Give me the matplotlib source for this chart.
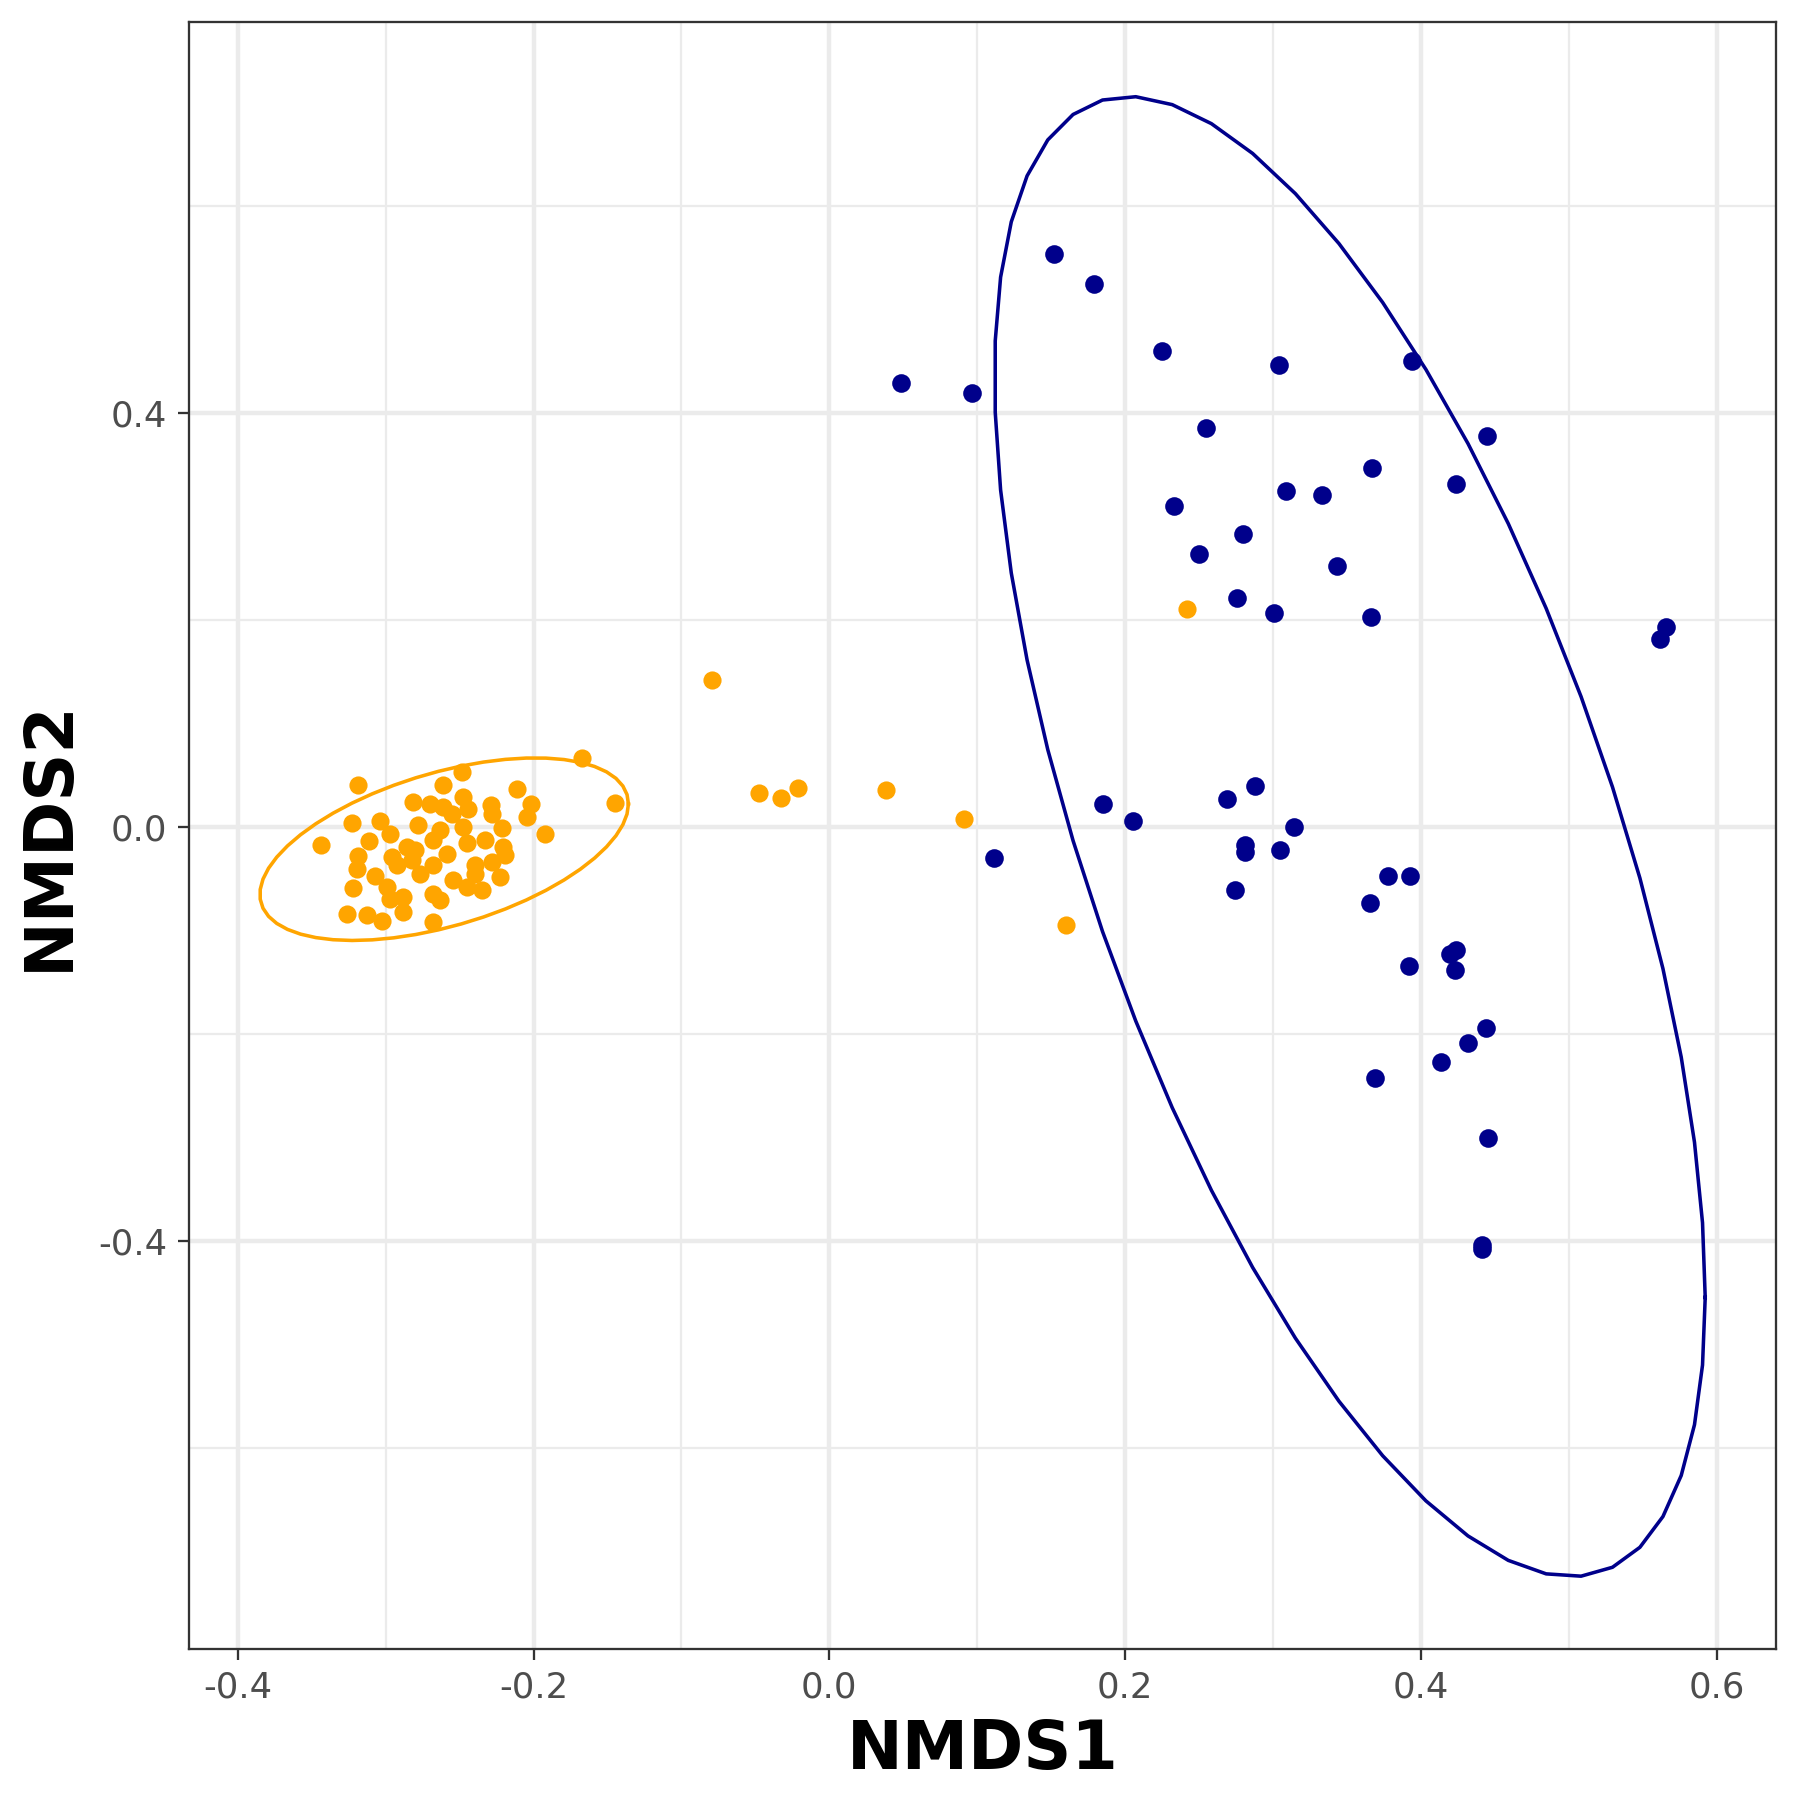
import numpy as np
import matplotlib

matplotlib.use("Agg")
import matplotlib.pyplot as plt
from matplotlib.ticker import MultipleLocator

# group A (orange) site scores
orange_x = [
    -0.3186, -0.3440, -0.3230, -0.3040, -0.2972, -0.3112, -0.3186, -0.3197, -0.3073, -0.3224,
    -0.3265, -0.3129, -0.3028, -0.2994, -0.2972, -0.2882, -0.2882, -0.2960, -0.2926, -0.2859,
    -0.2803, -0.2814, -0.2780, -0.2701, -0.2611, -0.2487, -0.2611, -0.2554, -0.2476, -0.2634,
    -0.2679, -0.2825, -0.2769, -0.2679, -0.2588, -0.2544, -0.2679, -0.2634, -0.2679, -0.2453,
    -0.2476, -0.2453, -0.1675, -0.1450, -0.1923, -0.2111, -0.2020, -0.2047, -0.2442, -0.2291,
    -0.2284, -0.2216, -0.2329, -0.2205, -0.2194, -0.2284, -0.2397, -0.2397, -0.2228, -0.2352,
    0.2420, -0.0796, -0.0477, -0.0330, -0.0210, 0.0384, 0.0910, 0.1600,
]
orange_y = [
    0.0401, -0.0172, 0.0037, 0.0056, -0.0066, -0.0137, -0.0285, -0.0404, -0.0478, -0.0588,
    -0.0839, -0.0849, -0.0913, -0.0582, -0.0694, -0.0678, -0.0823, -0.0292, -0.0372, -0.0195,
    -0.0227, 0.0240, 0.0015, 0.0224, 0.0401, 0.0530, 0.0191, 0.0127, 0.0288, -0.0034,
    -0.0130, -0.0324, -0.0452, -0.0372, -0.0259, -0.0517, -0.0646, -0.0710, -0.0920, -0.0582,
    0.0000, -0.0161, 0.0669, 0.0230, -0.0072, 0.0360, 0.0217, 0.0095, 0.0176, 0.0208,
    0.0121, -0.0017, -0.0130, -0.0195, -0.0275, -0.0340, -0.0372, -0.0452, -0.0485, -0.0614,
    0.2100, 0.1420, 0.0330, 0.0280, 0.0370, 0.0355, 0.0078, -0.0954,
]

# group B (dark blue) site scores
blue_x = [
    0.0485, 0.0966, 0.1520, 0.1790, 0.2250, 0.3040, 0.3940, 0.2550, 0.4450, 0.3670,
    0.4240, 0.2330, 0.3090, 0.3330, 0.2800, 0.2500, 0.3430, 0.2760, 0.3010, 0.3660,
    0.5660, 0.5620, 0.1850, 0.2050, 0.2690, 0.2880, 0.3140, 0.2810, 0.2810, 0.3050,
    0.1110, 0.2740, 0.3776, 0.3929, 0.3658, 0.4197, 0.4238, 0.4229, 0.3918, 0.4441,
    0.4317, 0.4136, 0.3690, 0.4452, 0.4414, 0.4414,
]
blue_y = [
    0.4290, 0.4190, 0.5530, 0.5240, 0.4600, 0.4460, 0.4500, 0.3850, 0.3780, 0.3470,
    0.3310, 0.3100, 0.3240, 0.3210, 0.2830, 0.2640, 0.2520, 0.2210, 0.2070, 0.2030,
    0.1930, 0.1810, 0.0220, 0.0060, 0.0270, 0.0390, 0.0000, -0.0180, -0.0240, -0.0220,
    -0.0300, -0.0610, -0.0475, -0.0475, -0.0739, -0.1226, -0.1194, -0.1384, -0.1345, -0.1948,
    -0.2090, -0.2270, -0.2424, -0.3011, -0.4045, -0.4077,
]

# ellipse centres and covariance (sxx, sxy, syy)
orange_centre = [-0.2605, -0.0217]
orange_cov = [0.01553, 0.005445, 0.00778]
blue_centre = [0.3520, -0.0095]
blue_cov = [0.05774, -0.1070, 0.5114]

ORANGE = "#FFA500"
BLUE = "#00008B"


def ellipse_path(centre, cov, segments=51):
    sxx, sxy, syy = cov
    chol = np.linalg.cholesky(np.array([[sxx, sxy], [sxy, syy]]))
    t = np.linspace(0, 2 * np.pi, segments + 1)
    unit = np.vstack([np.cos(t), np.sin(t)])
    pts = chol @ unit
    return centre[0] + pts[0], centre[1] + pts[1]


fig = plt.figure(figsize=(6, 6), dpi=300)
ax = fig.add_axes([0.1052, 0.0839, 0.8815, 0.904])
ax.set_facecolor("white")

ax.scatter(orange_x, orange_y, s=19, color=ORANGE, linewidths=0, zorder=3)
ax.scatter(blue_x, blue_y, s=20, color=BLUE, linewidths=0, zorder=3)

ex, ey = ellipse_path(orange_centre, orange_cov)
ax.plot(ex, ey, color=ORANGE, linewidth=0.85, zorder=2)
ex, ey = ellipse_path(blue_centre, blue_cov)
ax.plot(ex, ey, color=BLUE, linewidth=0.85, zorder=2)

ax.set_xlim(-0.4328, 0.6402)
ax.set_ylim(-0.7945, 0.7778)
ax.xaxis.set_major_locator(MultipleLocator(0.2))
ax.xaxis.set_minor_locator(MultipleLocator(0.1))
ax.yaxis.set_major_locator(MultipleLocator(0.4))
ax.yaxis.set_minor_locator(MultipleLocator(0.2))
ax.xaxis.set_major_formatter(lambda v, p: f"{v:.1f}".replace("-0.0", "0.0"))
ax.yaxis.set_major_formatter(lambda v, p: f"{v:.1f}".replace("-0.0", "0.0"))

ax.grid(True, which="major", color="#EBEBEB", linewidth=1.07, zorder=0)
ax.grid(True, which="minor", color="#EBEBEB", linewidth=0.53, zorder=0)
ax.set_axisbelow(True)

for spine in ax.spines.values():
    spine.set_color("#333333")
    spine.set_linewidth(0.55)

ax.tick_params(which="major", length=2.75, width=0.55, color="#333333",
               labelcolor="#4D4D4D", labelsize=8.5, pad=2.5)
ax.tick_params(which="minor", length=0)

ax.set_xlabel("NMDS1", fontsize=16, fontweight="bold", labelpad=3)
ax.set_ylabel("NMDS2", fontsize=16, fontweight="bold", labelpad=4)

fig.savefig("out.png", dpi=300)
plt.close(fig)
